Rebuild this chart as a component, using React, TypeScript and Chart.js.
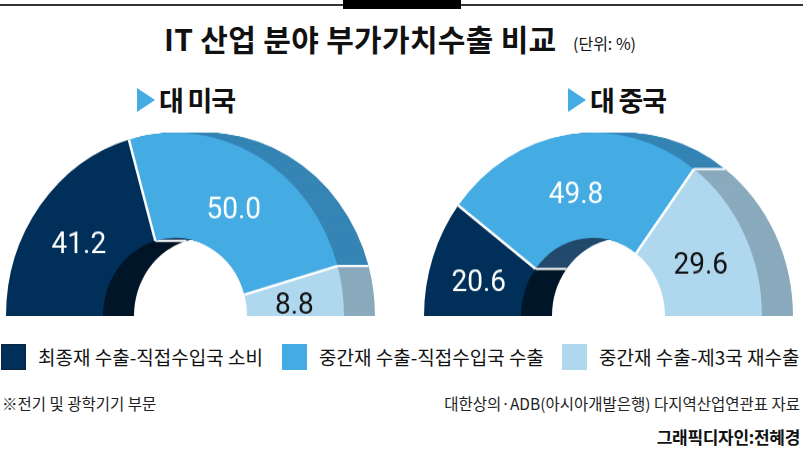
import React, { useEffect, useRef } from 'react';
import { Chart, registerables } from 'chart.js';

Chart.register(...registerables);

// 범례 / 데이터
const categories = ['최종재 수출-직접수입국 소비', '중간재 수출-직접수입국 수출', '중간재 수출-제3국 재수출'];
const usValues = [41.2, 50.0, 8.8];
const cnValues = [20.6, 49.8, 29.6];

const faceColors = ['#00305a', '#45abe3', '#afd8ee'];
const innerWallColors = ['#001628', '#234a6c', '#5f7f90'];
const outerWallColors = ['#00203d', '#3585b5', '#8aaabd'];
const labelColors = ['#ffffff', '#ffffff', '#111111'];

const DEPTH = 31; // 입체 두께(px)
const LABEL_DROP = 8; // 값 라벨을 중심점보다 약간 아래로
const FONT = '"Noto Sans CJK KR", "Noto Sans", sans-serif';

function ringPath(ctx: CanvasRenderingContext2D, x: number, y: number, r0: number, r1: number, a0: number, a1: number) {
  ctx.beginPath();
  ctx.arc(x, y, r1, a0, a1);
  ctx.arc(x, y, r0, a1, a0, true);
  ctx.closePath();
}

// 도넛 뒤쪽 벽면(입체) + 흰색 경계선 + 값 라벨
const extrudePlugin = {
  id: 'extrude',
  beforeDatasetsDraw(chart: any) {
    const ctx: CanvasRenderingContext2D = chart.ctx;
    const arcs = chart.getDatasetMeta(0).data as any[];
    if (!arcs.length) return;
    ctx.save();
    for (let k = DEPTH; k >= 1; k--) {
      arcs.forEach((arc, i) => {
        const { x, y, startAngle, endAngle, innerRadius, outerRadius } = arc;
        const mid = (innerRadius + outerRadius) / 2;
        ctx.fillStyle = innerWallColors[i];
        ringPath(ctx, x + k, y, innerRadius, mid + 0.5, startAngle, endAngle + 0.002);
        ctx.fill();
        ctx.fillStyle = outerWallColors[i];
        ringPath(ctx, x + k, y, mid, outerRadius, startAngle, endAngle + 0.002);
        ctx.fill();
      });
    }
    ctx.strokeStyle = '#ffffff';
    ctx.lineWidth = 2;
    arcs.forEach((arc, i) => {
      if (i === 0) return;
      const { x, y, startAngle, innerRadius, outerRadius } = arc;
      [innerRadius, outerRadius].forEach((r) => {
        const px = x + r * Math.cos(startAngle);
        const py = y + r * Math.sin(startAngle);
        ctx.beginPath();
        ctx.moveTo(px, py);
        ctx.lineTo(px + DEPTH, py);
        ctx.stroke();
      });
    });
    ctx.restore();
  },
  afterDatasetsDraw(chart: any) {
    const ctx: CanvasRenderingContext2D = chart.ctx;
    const arcs = chart.getDatasetMeta(0).data as any[];
    const values = chart.data.datasets[0].data as number[];
    ctx.save();
    ctx.strokeStyle = '#ffffff';
    ctx.lineWidth = 2.5;
    arcs.forEach((arc, i) => {
      if (i === 0) return;
      const { x, y, startAngle, innerRadius, outerRadius } = arc;
      ctx.beginPath();
      ctx.moveTo(x + innerRadius * Math.cos(startAngle), y + innerRadius * Math.sin(startAngle));
      ctx.lineTo(x + outerRadius * Math.cos(startAngle), y + outerRadius * Math.sin(startAngle));
      ctx.stroke();
    });
    ctx.font = '400 28px Roboto, "Noto Sans", sans-serif';
    ctx.textAlign = 'center';
    ctx.textBaseline = 'middle';
    arcs.forEach((arc, i) => {
      const p = arc.getCenterPoint();
      ctx.fillStyle = labelColors[i];
      ctx.fillText(values[i].toFixed(1), p.x, p.y + LABEL_DROP);
    });
    ctx.restore();
  },
};

const HalfDonut: React.FC<{ values: number[]; left: number }> = ({ values, left }) => {
  const canvasRef = useRef<HTMLCanvasElement>(null);
  const chartRef = useRef<Chart | null>(null);

  useEffect(() => {
    if (!canvasRef.current) return;
    if (chartRef.current) chartRef.current.destroy();
    chartRef.current = new Chart(canvasRef.current, {
      type: 'doughnut',
      data: {
        labels: categories,
        datasets: [
          {
            data: values,
            backgroundColor: faceColors,
            borderWidth: 0,
            hoverOffset: 0,
          },
        ],
      },
      options: {
        responsive: true,
        maintainAspectRatio: false,
        animation: false,
        events: [],
        rotation: -90,
        circumference: 180,
        cutout: '42.6%',
        layout: { padding: { left: 2, right: DEPTH + 2, top: 2, bottom: 0 } },
        plugins: {
          legend: { display: false },
          tooltip: { enabled: false },
        },
      },
      plugins: [extrudePlugin],
    });
    return () => {
      if (chartRef.current) {
        chartRef.current.destroy();
        chartRef.current = null;
      }
    };
  }, [values]);

  return (
    <div
      style={{
        position: 'absolute',
        left,
        top: 145,
        width: 373,
        height: 171,
        transform: 'scaleY(1.085)',
        transformOrigin: 'bottom',
      }}
    >
      <canvas ref={canvasRef}></canvas>
    </div>
  );
};

const SubTitle: React.FC<{ text: string; left: number }> = ({ text, left }) => (
  <div style={{ position: 'absolute', left, top: 87, height: 26, display: 'flex', alignItems: 'center' }}>
    <div
      style={{
        width: 0,
        height: 0,
        borderLeft: '18px solid #45abe3',
        borderTop: '12px solid transparent',
        borderBottom: '12px solid transparent',
        marginRight: 4,
      }}
    />
    <span style={{ fontSize: 27, fontWeight: 700, letterSpacing: -1.2, lineHeight: '26px', color: '#111' }}>{text}</span>
  </div>
);

const legendX = [1, 282, 562];

export default function App() {
  return (
    <div
      style={{
        position: 'absolute',
        left: 0,
        top: 0,
        width: 803,
        height: 451,
        background: '#fff',
        fontFamily: FONT,
        color: '#111',
        overflow: 'hidden',
      }}
    >
      <div style={{ position: 'absolute', left: 0, top: 4, width: 803, height: 2, background: '#333' }} />
      <div style={{ position: 'absolute', left: 343, top: 0, width: 118, height: 9, background: '#000' }} />

      <div style={{ position: 'absolute', left: 164, top: 21, height: 34, lineHeight: '34px', fontSize: 30, fontWeight: 700, letterSpacing: 0.3, whiteSpace: 'nowrap' }}>
        IT 산업 분야 부가가치수출 비교
      </div>
      <div style={{ position: 'absolute', left: 573, top: 33, height: 20, lineHeight: '20px', fontSize: 16, whiteSpace: 'nowrap', letterSpacing: 0 }}>
        (단위: %)
      </div>

      <SubTitle text="대 미국" left={137} />
      <SubTitle text="대 중국" left={568} />

      <HalfDonut values={usValues} left={4} />
      <HalfDonut values={cnValues} left={422} />

      {categories.map((c, i) => (
        <React.Fragment key={c}>
          <div
            style={{
              position: 'absolute',
              left: legendX[i],
              top: 344,
              width: 25,
              height: 26,
              background: faceColors[i],
              boxSizing: 'border-box',
              border: i === 0 ? '1px solid #0b2440' : 'none',
            }}
          />
          <div style={{ position: 'absolute', left: legendX[i] + 37, top: 344, height: 26, lineHeight: '26px', fontSize: 19, letterSpacing: 0, whiteSpace: 'nowrap' }}>
            {c}
          </div>
        </React.Fragment>
      ))}

      <div style={{ position: 'absolute', left: 2, top: 393, height: 20, lineHeight: '20px', fontSize: 15.5, letterSpacing: 0, whiteSpace: 'nowrap', color: '#222' }}>
        ※전기 및 광학기기 부문
      </div>
      <div style={{ position: 'absolute', right: 3, top: 393, height: 20, lineHeight: '20px', fontSize: 15.5, letterSpacing: 0, whiteSpace: 'nowrap', color: '#222' }}>
        대한상의·ADB(아시아개발은행) 다지역산업연관표 자료
      </div>
      <div style={{ position: 'absolute', right: 3, top: 426, height: 22, lineHeight: '22px', fontSize: 17, fontWeight: 700, letterSpacing: -0.3, whiteSpace: 'nowrap' }}>
        그래픽디자인:전혜경
      </div>
    </div>
  );
}
